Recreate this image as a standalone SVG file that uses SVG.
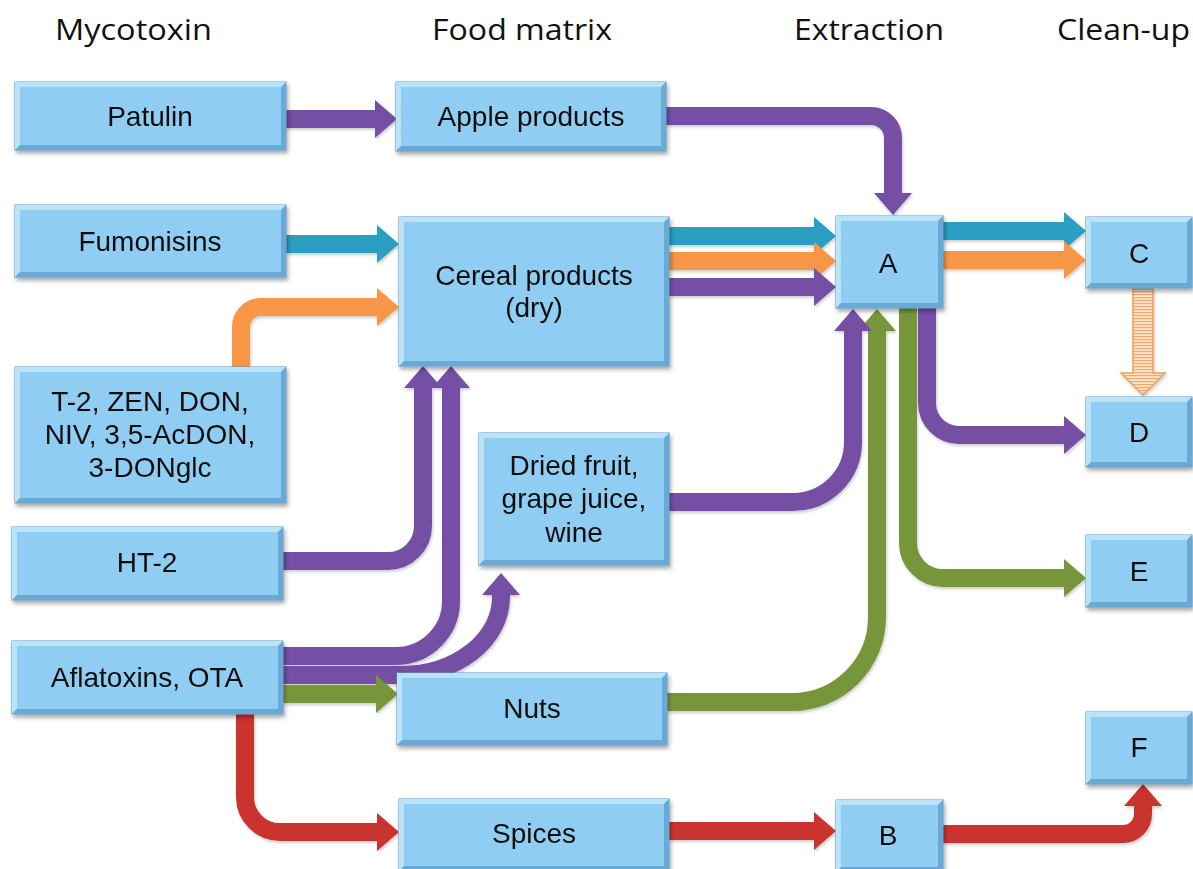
<svg xmlns="http://www.w3.org/2000/svg" width="1193" height="869" viewBox="0 0 1193 869">
<style>
.hdr{font-family:"Open Sans","Liberation Sans",sans-serif;font-size:29px;fill:#111}
.lbl{font-family:"Liberation Sans",Arial,sans-serif;font-size:28px;fill:#111;text-anchor:middle}
.box{fill:#8FCDF2;stroke:#5C97C4;stroke-width:1}
.hl{fill:#B9E3F9}
.sh{fill:#68A9D6}
.c{fill:none;stroke-width:18;stroke-linecap:butt}
.pu{stroke:#7550A4}
.te{stroke:#2C9FC2}
.or{stroke:#F79646}
.gr{stroke:#77963A}
.re{stroke:#C9342F}
</style>
<defs>
<filter id="ds" x="-10%" y="-10%" width="130%" height="140%">
<feDropShadow dx="1.5" dy="3" stdDeviation="2" flood-color="#000" flood-opacity="0.35"/>
</filter>
<filter id="cs" x="-10%" y="-10%" width="130%" height="130%">
<feDropShadow dx="1" dy="2" stdDeviation="1.5" flood-color="#000" flood-opacity="0.2"/>
</filter>
<marker id="mpu" markerUnits="userSpaceOnUse" markerWidth="24" markerHeight="40" viewBox="0 -20 24 40" refX="0" refY="0" orient="auto" overflow="visible"><path d="M0,-19 L22,0 L0,19 Z" fill="#7550A4"/></marker>
<marker id="mte" markerUnits="userSpaceOnUse" markerWidth="24" markerHeight="40" viewBox="0 -20 24 40" refX="0" refY="0" orient="auto" overflow="visible"><path d="M0,-19 L22,0 L0,19 Z" fill="#2C9FC2"/></marker>
<marker id="mor" markerUnits="userSpaceOnUse" markerWidth="24" markerHeight="40" viewBox="0 -20 24 40" refX="0" refY="0" orient="auto" overflow="visible"><path d="M0,-19 L22,0 L0,19 Z" fill="#F79646"/></marker>
<marker id="mgr" markerUnits="userSpaceOnUse" markerWidth="24" markerHeight="40" viewBox="0 -20 24 40" refX="0" refY="0" orient="auto" overflow="visible"><path d="M0,-19 L22,0 L0,19 Z" fill="#77963A"/></marker>
<marker id="mre" markerUnits="userSpaceOnUse" markerWidth="24" markerHeight="40" viewBox="0 -20 24 40" refX="0" refY="0" orient="auto" overflow="visible"><path d="M0,-19 L22,0 L0,19 Z" fill="#C9342F"/></marker>
<pattern id="stripe" patternUnits="userSpaceOnUse" width="6" height="3">
<rect width="6" height="3" fill="#FCE6CE"/>
<rect width="6" height="1.2" fill="#F2A66A"/>
</pattern>
</defs>
<rect width="1193" height="869" fill="#fff"/>

<g id="headers">
<text class="hdr" x="55" y="40" textLength="157" lengthAdjust="spacingAndGlyphs">Mycotoxin</text>
<text class="hdr" x="432" y="40" textLength="180" lengthAdjust="spacingAndGlyphs">Food matrix</text>
<text class="hdr" x="794" y="40" textLength="150" lengthAdjust="spacingAndGlyphs">Extraction</text>
<text class="hdr" x="1057" y="40" textLength="133" lengthAdjust="spacingAndGlyphs">Clean-up</text>
</g>

<g id="connectors" filter="url(#cs)">
<path class="c pu" marker-end="url(#mpu)" d="M286,119 H375"/>
<path class="c te" marker-end="url(#mte)" d="M286,244 H377"/>
<path class="c or" marker-end="url(#mor)" d="M241,367 V327 A20,20 0 0 1 261,307 H377"/>
<path class="c pu" marker-end="url(#mpu)" d="M283,561 H388 A35,35 0 0 0 423,526 V388"/>
<path class="c pu" marker-end="url(#mpu)" d="M283,656 H396 A55,55 0 0 0 451,601 V388"/>
<path class="c pu" marker-end="url(#mpu)" d="M283,675 H401 A100,78 0 0 0 501,597 V595"/>
<path class="c gr" marker-end="url(#mgr)" d="M283,694 H376"/>
<path class="c re" marker-end="url(#mre)" d="M245,714 V797 A35,35 0 0 0 280,832 H377"/>
<path class="c pu" marker-end="url(#mpu)" d="M666,116 H871 A22,22 0 0 1 893,138 V193"/>
<path class="c te" marker-end="url(#mte)" d="M669,236 H814"/>
<path class="c or" marker-end="url(#mor)" d="M669,261 H814"/>
<path class="c pu" marker-end="url(#mpu)" d="M669,287 H814"/>
<path class="c te" marker-end="url(#mte)" d="M943,231 H1064"/>
<path class="c or" marker-end="url(#mor)" d="M943,260 H1064"/>
<path d="M1133,289 H1153 V373 H1165 L1143,395 L1121,373 H1133 Z" fill="url(#stripe)" stroke="#EFA055" stroke-width="1.5"/>
<path class="c pu" marker-end="url(#mpu)" d="M927,308 V403 A32,32 0 0 0 959,435 H1064"/>
<path class="c gr" marker-end="url(#mgr)" d="M908,308 V543 A35,35 0 0 0 943,578 H1064"/>
<path class="c gr" marker-end="url(#mgr)" d="M667,702 H792 A85,85 0 0 0 877,617 V331"/>
<path class="c pu" marker-end="url(#mpu)" d="M669,502 H793 A60,60 0 0 0 853,442 V331"/>
<path class="c re" marker-end="url(#mre)" d="M669,831 H814"/>
<path class="c re" marker-end="url(#mre)" d="M943,834 H1123 A20,20 0 0 0 1143,814 V806"/>
</g>

<g id="patulin" filter="url(#ds)">
<rect class="box" x="15" y="82" width="271" height="68"/>
<path class="hl" d="M15,82 L286,82 L281,87 L20,87 Z M15,82 L20,87 L20,145 L15,150 Z"/>
<path class="sh" d="M286,82 L286,150 L281,145 L281,87 Z M15,150 L286,150 L281,145 L20,145 Z"/>
<text class="lbl" x="150" y="126">Patulin</text>
</g>
<g id="fumonisins" filter="url(#ds)">
<rect class="box" x="15" y="205" width="271" height="72"/>
<path class="hl" d="M15,205 L286,205 L281,210 L20,210 Z M15,205 L20,210 L20,272 L15,277 Z"/>
<path class="sh" d="M286,205 L286,277 L281,272 L281,210 Z M15,277 L286,277 L281,272 L20,272 Z"/>
<text class="lbl" x="150" y="251">Fumonisins</text>
</g>
<g id="apple" filter="url(#ds)">
<rect class="box" x="396" y="82" width="270" height="69"/>
<path class="hl" d="M396,82 L666,82 L661,87 L401,87 Z M396,82 L401,87 L401,146 L396,151 Z"/>
<path class="sh" d="M666,82 L666,151 L661,146 L661,87 Z M396,151 L666,151 L661,146 L401,146 Z"/>
<text class="lbl" x="531" y="126">Apple products</text>
</g>
<g id="cereal" filter="url(#ds)">
<rect class="box" x="399" y="217" width="270" height="149"/>
<path class="hl" d="M399,217 L669,217 L664,222 L404,222 Z M399,217 L404,222 L404,361 L399,366 Z"/>
<path class="sh" d="M669,217 L669,366 L664,361 L664,222 Z M399,366 L669,366 L664,361 L404,361 Z"/>
<text class="lbl" x="534" y="285">Cereal products</text>
<text class="lbl" x="534" y="317">(dry)</text>
</g>
<g id="t2" filter="url(#ds)">
<rect class="box" x="15" y="367" width="271" height="136"/>
<path class="hl" d="M15,367 L286,367 L281,372 L20,372 Z M15,367 L20,372 L20,498 L15,503 Z"/>
<path class="sh" d="M286,367 L286,503 L281,498 L281,372 Z M15,503 L286,503 L281,498 L20,498 Z"/>
<text class="lbl" x="150" y="411">T-2, ZEN, DON,</text>
<text class="lbl" x="150" y="444">NIV, 3,5-AcDON,</text>
<text class="lbl" x="150" y="477">3-DONglc</text>
</g>
<g id="ht2" filter="url(#ds)">
<rect class="box" x="12" y="527" width="271" height="73"/>
<path class="hl" d="M12,527 L283,527 L278,532 L17,532 Z M12,527 L17,532 L17,595 L12,600 Z"/>
<path class="sh" d="M283,527 L283,600 L278,595 L278,532 Z M12,600 L283,600 L278,595 L17,595 Z"/>
<text class="lbl" x="147" y="572">HT-2</text>
</g>
<g id="dried" filter="url(#ds)">
<rect class="box" x="479" y="433" width="190" height="132"/>
<path class="hl" d="M479,433 L669,433 L664,438 L484,438 Z M479,433 L484,438 L484,560 L479,565 Z"/>
<path class="sh" d="M669,433 L669,565 L664,560 L664,438 Z M479,565 L669,565 L664,560 L484,560 Z"/>
<text class="lbl" x="574" y="475">Dried fruit,</text>
<text class="lbl" x="574" y="508">grape juice,</text>
<text class="lbl" x="574" y="542">wine</text>
</g>
<g id="aflatoxins" filter="url(#ds)">
<rect class="box" x="12" y="641" width="271" height="73"/>
<path class="hl" d="M12,641 L283,641 L278,646 L17,646 Z M12,641 L17,646 L17,709 L12,714 Z"/>
<path class="sh" d="M283,641 L283,714 L278,709 L278,646 Z M12,714 L283,714 L278,709 L17,709 Z"/>
<text class="lbl" x="147" y="687">Aflatoxins, OTA</text>
</g>
<g id="nuts" filter="url(#ds)">
<rect class="box" x="397" y="673" width="270" height="72"/>
<path class="hl" d="M397,673 L667,673 L662,678 L402,678 Z M397,673 L402,678 L402,740 L397,745 Z"/>
<path class="sh" d="M667,673 L667,745 L662,740 L662,678 Z M397,745 L667,745 L662,740 L402,740 Z"/>
<text class="lbl" x="532" y="718">Nuts</text>
</g>
<g id="spices" filter="url(#ds)">
<rect class="box" x="399" y="799" width="270" height="72"/>
<path class="hl" d="M399,799 L669,799 L664,804 L404,804 Z M399,799 L404,804 L404,866 L399,871 Z"/>
<path class="sh" d="M669,799 L669,871 L664,866 L664,804 Z M399,871 L669,871 L664,866 L404,866 Z"/>
<text class="lbl" x="534" y="843">Spices</text>
</g>
<g id="nodeA" filter="url(#ds)">
<rect class="box" x="836" y="216" width="107" height="92"/>
<path class="hl" d="M836,216 L943,216 L938,221 L841,221 Z M836,216 L841,221 L841,303 L836,308 Z"/>
<path class="sh" d="M943,216 L943,308 L938,303 L938,221 Z M836,308 L943,308 L938,303 L841,303 Z"/>
<text class="lbl" x="888" y="273">A</text>
</g>
<g id="nodeB" filter="url(#ds)">
<rect class="box" x="836" y="800" width="107" height="72"/>
<path class="hl" d="M836,800 L943,800 L938,805 L841,805 Z M836,800 L841,805 L841,867 L836,872 Z"/>
<path class="sh" d="M943,800 L943,872 L938,867 L938,805 Z M836,872 L943,872 L938,867 L841,867 Z"/>
<text class="lbl" x="888" y="845">B</text>
</g>
<g id="nodeC" filter="url(#ds)">
<rect class="box" x="1086" y="217" width="106" height="71"/>
<path class="hl" d="M1086,217 L1192,217 L1187,222 L1091,222 Z M1086,217 L1091,222 L1091,283 L1086,288 Z"/>
<path class="sh" d="M1192,217 L1192,288 L1187,283 L1187,222 Z M1086,288 L1192,288 L1187,283 L1091,283 Z"/>
<text class="lbl" x="1139" y="263">C</text>
</g>
<g id="nodeD" filter="url(#ds)">
<rect class="box" x="1086" y="397" width="106" height="70"/>
<path class="hl" d="M1086,397 L1192,397 L1187,402 L1091,402 Z M1086,397 L1091,402 L1091,462 L1086,467 Z"/>
<path class="sh" d="M1192,397 L1192,467 L1187,462 L1187,402 Z M1086,467 L1192,467 L1187,462 L1091,462 Z"/>
<text class="lbl" x="1139" y="442">D</text>
</g>
<g id="nodeE" filter="url(#ds)">
<rect class="box" x="1086" y="535" width="106" height="72"/>
<path class="hl" d="M1086,535 L1192,535 L1187,540 L1091,540 Z M1086,535 L1091,540 L1091,602 L1086,607 Z"/>
<path class="sh" d="M1192,535 L1192,607 L1187,602 L1187,540 Z M1086,607 L1192,607 L1187,602 L1091,602 Z"/>
<text class="lbl" x="1139" y="581">E</text>
</g>
<g id="nodeF" filter="url(#ds)">
<rect class="box" x="1086" y="712" width="106" height="72"/>
<path class="hl" d="M1086,712 L1192,712 L1187,717 L1091,717 Z M1086,712 L1091,717 L1091,779 L1086,784 Z"/>
<path class="sh" d="M1192,712 L1192,784 L1187,779 L1187,717 Z M1086,784 L1192,784 L1187,779 L1091,779 Z"/>
<text class="lbl" x="1139" y="757">F</text>
</g>
</svg>
